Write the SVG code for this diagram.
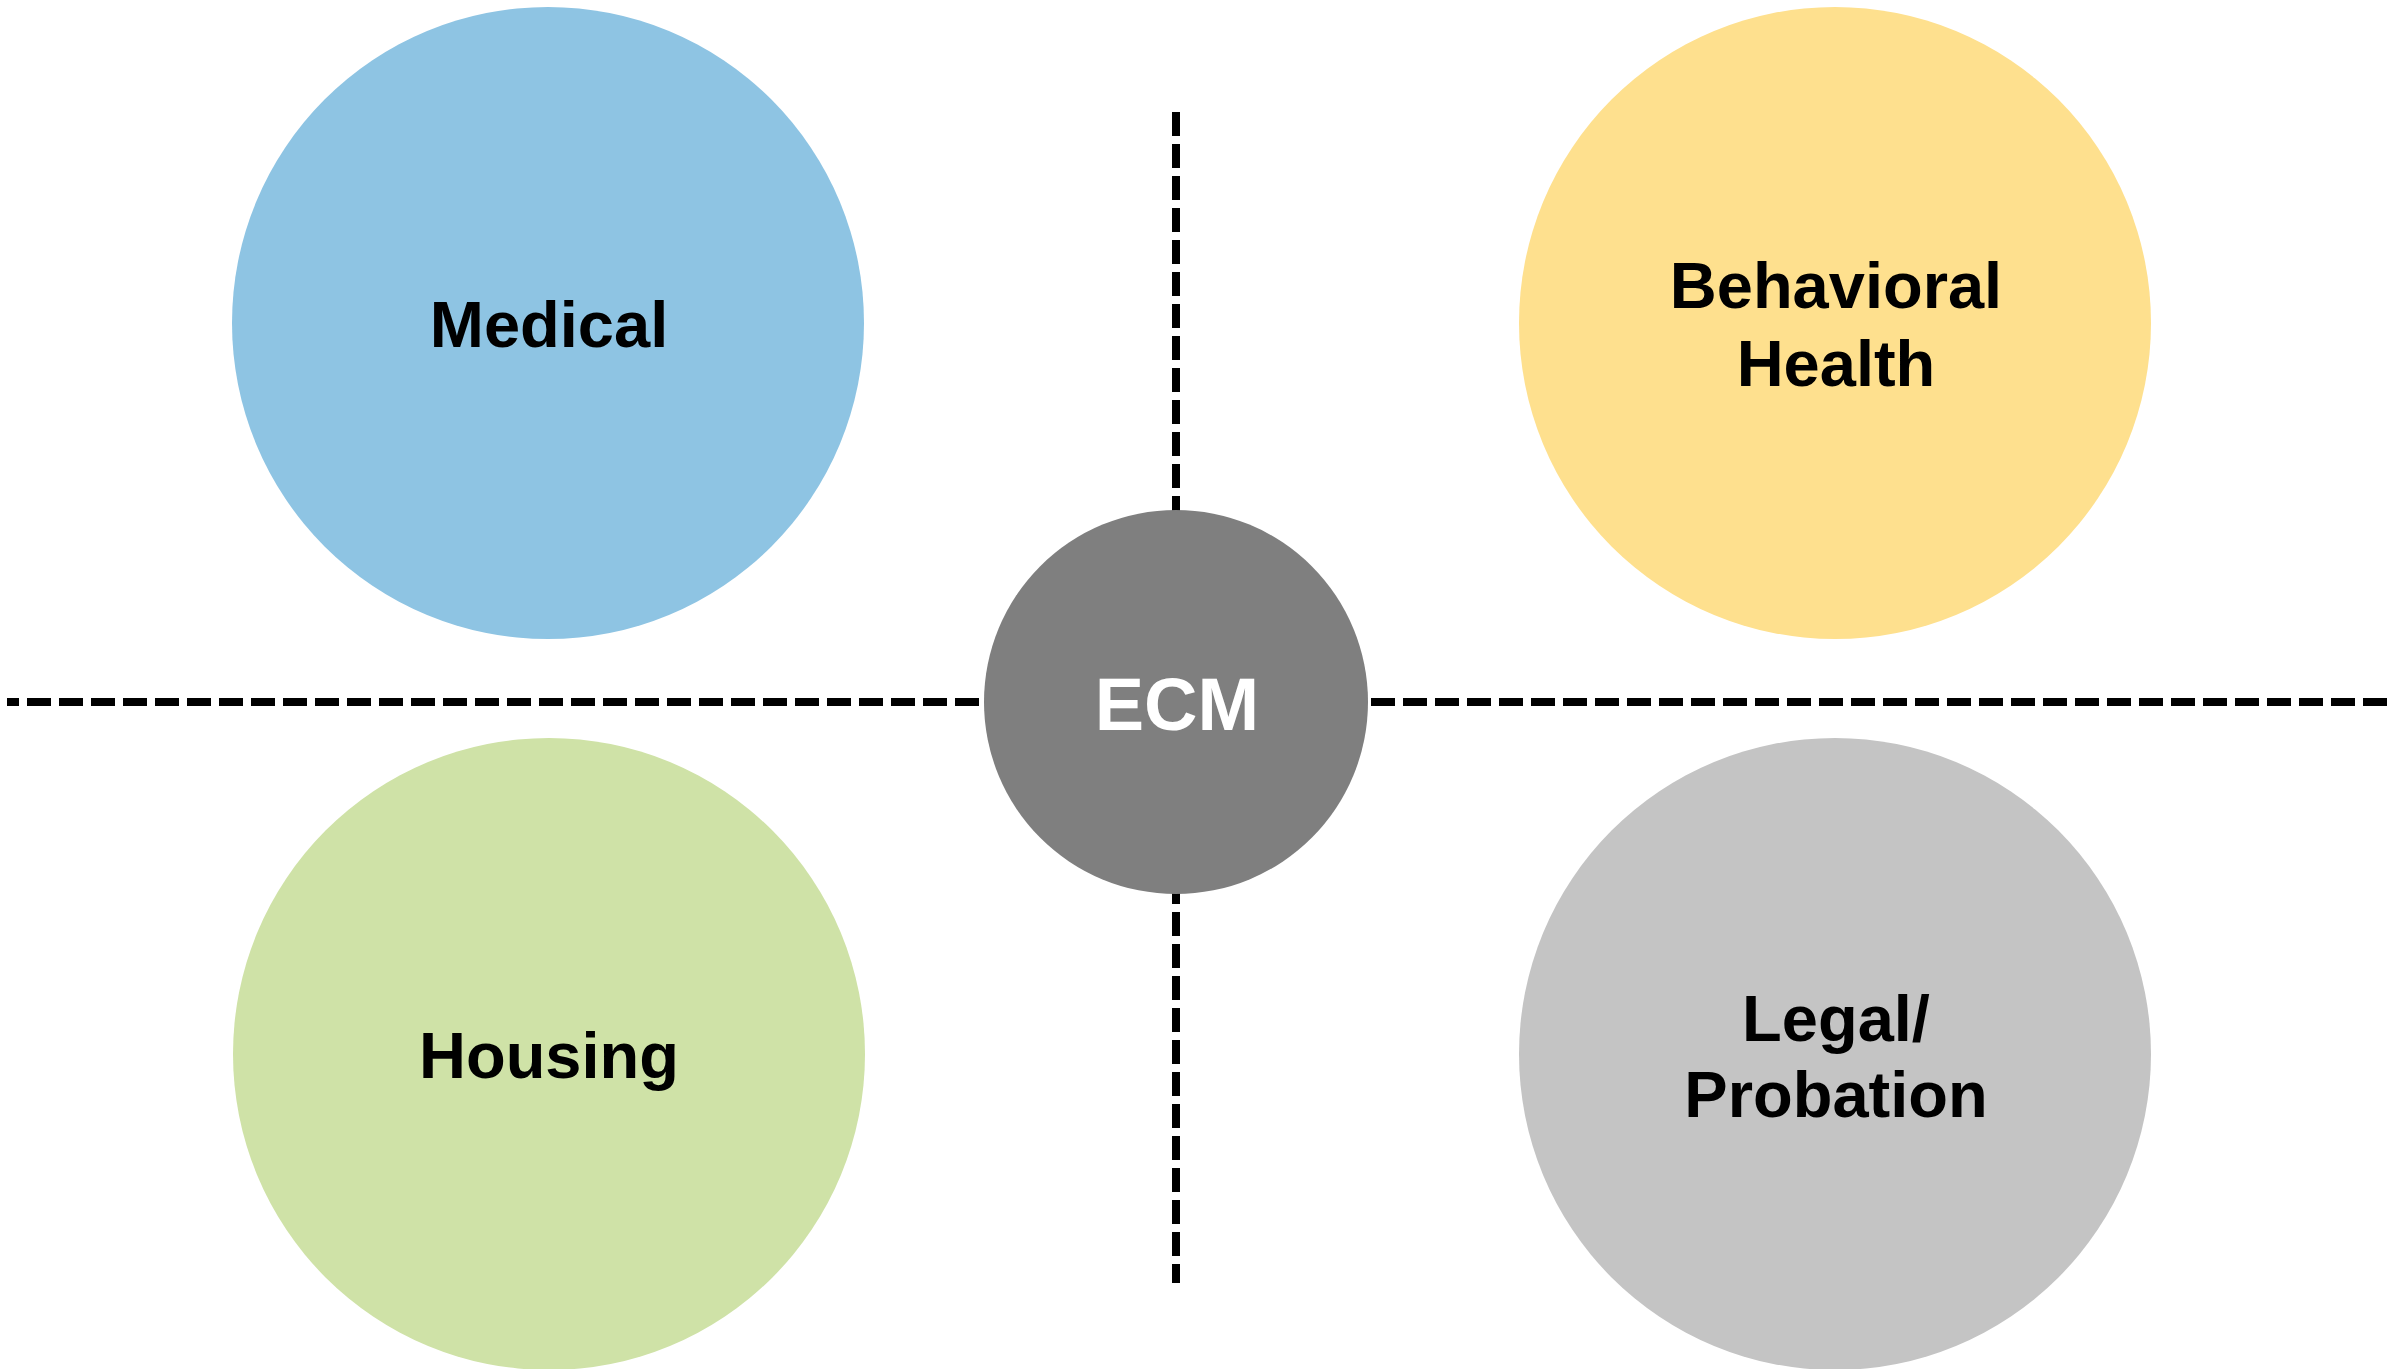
<svg xmlns="http://www.w3.org/2000/svg" width="2402" height="1369" viewBox="0 0 2402 1369">
  <style>
    .lbl { font-family: "Liberation Sans", Arial, sans-serif; font-weight: bold; font-size: 65px; fill: #000000; text-anchor: middle; }
    .hub { font-family: "Liberation Sans", Arial, sans-serif; font-weight: bold; font-size: 74px; fill: #FFFFFF; text-anchor: middle; }
    .dash { stroke: #000000; stroke-width: 8; stroke-dasharray: 24 8; fill: none; }
  </style>
  <rect x="0" y="0" width="2402" height="1369" fill="#FFFFFF"/>
  <g id="connectors">
    <path class="dash" d="M1176 112 L1176 1283"/>
    <path class="dash" d="M979 702 L7 702"/>
    <path class="dash" d="M1371 702 L2387 702"/>
  </g>
  <g id="medical">
    <circle cx="548" cy="323" r="316" fill="#8EC4E3"/>
    <text class="lbl" x="549" y="347">Medical</text>
  </g>
  <g id="behavioral-health">
    <circle cx="1835" cy="323" r="316" fill="#FEE08E"/>
    <text class="lbl" x="1836" y="308">Behavioral</text>
    <text class="lbl" x="1836" y="386">Health</text>
  </g>
  <g id="housing">
    <circle cx="549" cy="1054" r="316" fill="#CFE2A7"/>
    <text class="lbl" x="549" y="1078">Housing</text>
  </g>
  <g id="legal-probation">
    <circle cx="1835" cy="1054" r="316" fill="#C4C4C4"/>
    <text class="lbl" x="1836" y="1041">Legal/</text>
    <text class="lbl" x="1836" y="1117">Probation</text>
  </g>
  <g id="ecm">
    <circle cx="1176" cy="702" r="192" fill="#7F7F7F"/>
    <text class="hub" x="1177" y="730">ECM</text>
  </g>
</svg>
